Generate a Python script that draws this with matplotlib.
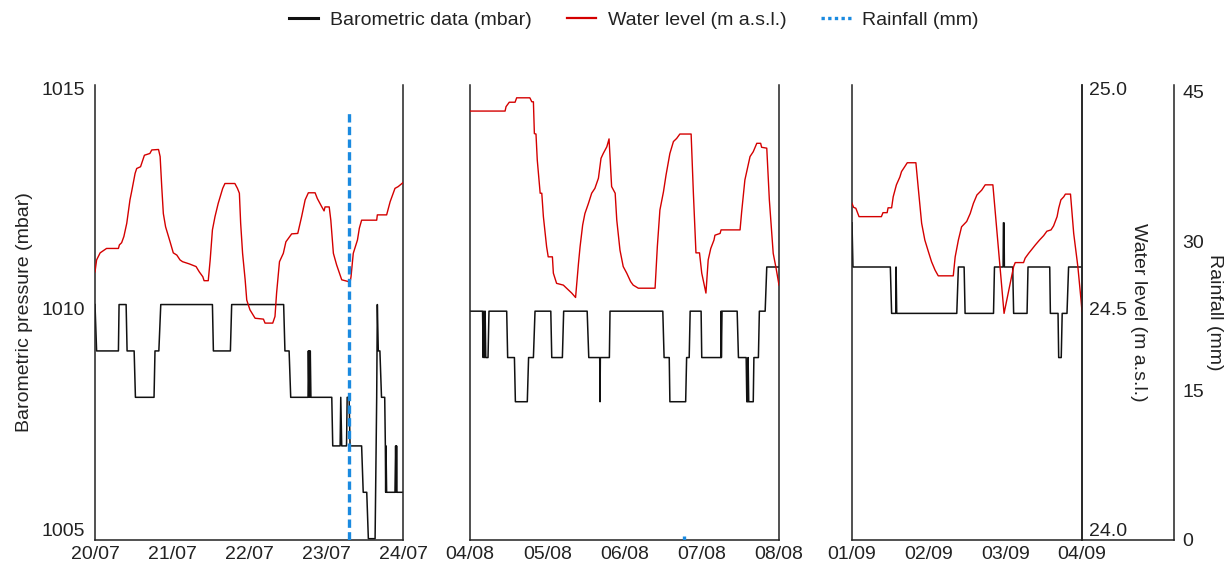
import matplotlib.pyplot as plt
import numpy as np

plt.rcParams['font.family'] = ['Liberation Sans', 'DejaVu Sans']
plt.rcParams['font.size'] = 14
plt.rcParams['text.color'] = '#222222'
plt.rcParams['axes.labelcolor'] = '#222222'
plt.rcParams['xtick.color'] = '#222222'
plt.rcParams['ytick.color'] = '#222222'

# times are hours from the first date of each window
jul_ticks = ['20/07', '21/07', '22/07', '23/07', '24/07']
aug_ticks = ['04/08', '05/08', '06/08', '07/08', '08/08']
sep_ticks = ['01/09', '02/09', '03/09', '04/09']

# barometric pressure (mbar)
baro_jul = [(0, 1010.1), (0.5, 1009.05), (7.3, 1009.05), (7.5, 1010.1), (9.7, 1010.1), (10.0, 1009.05),
            (12.2, 1009.05), (12.6, 1008.0), (18.4, 1008.0), (18.7, 1009.05), (19.9, 1009.05), (20.5, 1010.1),
            (36.6, 1010.1), (36.9, 1009.05), (42.2, 1009.05), (42.6, 1010.1), (58.8, 1010.1), (59.2, 1009.05),
            (60.5, 1009.05), (61.0, 1008.0), (66.4, 1008.0), (66.5, 1009.05), (66.7, 1008.0), (66.8, 1009.05),
            (67.0, 1008.0), (67.1, 1009.05), (67.3, 1008.0), (73.8, 1008.0), (74.1, 1006.9), (76.4, 1006.9),
            (76.6, 1008.0), (76.9, 1006.9), (78.4, 1006.9), (78.6, 1008.0), (79.2, 1008.0), (79.5, 1006.9),
            (83.1, 1006.9), (83.6, 1005.85), (84.7, 1005.85), (85.2, 1004.8), (87.3, 1004.8), (87.8, 1008.0),
            (88.0, 1010.1), (88.3, 1009.05), (88.8, 1009.05), (89.3, 1008.0), (90.3, 1008.0), (90.5, 1006.9),
            (90.6, 1005.85), (90.7, 1006.9), (90.9, 1005.85), (93.5, 1005.85), (93.7, 1006.9), (93.9, 1005.85),
            (94.0, 1006.9), (94.1, 1005.85), (96, 1005.85)]
baro_aug = [(0, 1009.95), (3.9, 1009.95), (4.1, 1008.9), (4.3, 1009.95), (4.5, 1008.9), (4.7, 1009.95),
            (4.9, 1008.9), (5.6, 1008.9), (5.9, 1009.95), (11.4, 1009.95), (11.7, 1008.9), (13.8, 1008.9),
            (14.1, 1007.9), (17.8, 1007.9), (18.2, 1008.9), (19.7, 1008.9), (20.2, 1009.95), (25.1, 1009.95),
            (25.4, 1008.9), (28.7, 1008.9), (29.1, 1009.95), (36.4, 1009.95), (36.9, 1008.9), (40.3, 1008.9),
            (40.4, 1007.9), (40.5, 1008.9), (43.3, 1008.9), (43.5, 1009.95), (59.9, 1009.95), (60.3, 1008.9),
            (61.9, 1008.9), (62.1, 1007.9), (67.0, 1007.9), (67.3, 1008.9), (68.1, 1008.9), (68.4, 1009.95),
            (71.8, 1009.95), (72.0, 1008.9), (77.9, 1008.9), (78.0, 1009.95), (78.1, 1008.9), (78.3, 1009.95),
            (83.0, 1009.95), (83.4, 1008.9), (85.8, 1008.9), (86.0, 1007.9), (86.3, 1007.9), (86.4, 1008.9),
            (86.6, 1007.9), (88.0, 1007.9), (88.2, 1008.9), (89.6, 1008.9), (89.9, 1009.95), (91.7, 1009.95),
            (92.2, 1010.95), (96, 1010.95)]
baro_sep = [(0, 1011.95), (0.3, 1010.95), (12.0, 1010.95), (12.4, 1009.9), (13.7, 1009.9), (13.8, 1010.95),
            (14.0, 1009.9), (32.8, 1009.9), (33.3, 1010.95), (35.1, 1010.95), (35.4, 1009.9), (44.3, 1009.9),
            (44.6, 1010.95), (47.3, 1010.95), (47.4, 1011.95), (47.6, 1011.95), (47.7, 1010.95), (50.3, 1010.95),
            (50.6, 1009.9), (54.8, 1009.9), (55.1, 1010.95), (61.9, 1010.95), (62.1, 1009.9), (64.5, 1009.9),
            (64.7, 1008.9), (65.5, 1008.9), (65.8, 1009.9), (67.3, 1009.9), (67.8, 1010.95), (72, 1010.95)]

# water level (m a.s.l.)
level_jul = [(0, 24.584), (0.5, 24.611), (1.6, 24.627), (3.6, 24.637), (7.3, 24.637), (7.6, 24.645),
             (8.3, 24.650), (9.0, 24.664), (9.9, 24.694), (10.9, 24.747), (11.4, 24.765), (12.5, 24.807),
             (13.0, 24.818), (14.2, 24.822), (15.4, 24.848), (17.1, 24.852), (17.7, 24.860), (19.8, 24.861),
             (20.3, 24.845), (20.8, 24.777), (21.3, 24.716), (22.0, 24.686), (23.4, 24.652), (24.4, 24.627),
             (25.5, 24.622), (26.5, 24.611), (27.3, 24.607), (29.4, 24.602), (31.5, 24.596), (32.5, 24.584),
             (33.6, 24.573), (34.0, 24.564), (35.3, 24.564), (35.9, 24.611), (36.6, 24.679), (37.4, 24.709),
             (38.4, 24.739), (39.8, 24.773), (40.5, 24.784), (43.6, 24.784), (44.4, 24.773), (45.0, 24.762),
             (45.4, 24.694), (46.0, 24.626), (46.8, 24.566), (47.3, 24.520), (48.3, 24.498), (49.9, 24.479),
             (52.5, 24.477), (53.0, 24.468), (55.4, 24.468), (56.1, 24.483), (56.6, 24.536), (57.5, 24.607),
             (58.7, 24.626), (59.5, 24.652), (61.3, 24.670), (63.2, 24.671), (64.4, 24.709), (65.5, 24.747),
             (66.5, 24.763), (68.6, 24.763), (69.3, 24.750), (70.7, 24.731), (71.4, 24.722), (71.7, 24.731),
             (73.0, 24.731), (73.5, 24.701), (74.3, 24.626), (75.3, 24.600), (76.9, 24.566), (79.0, 24.562),
             (79.3, 24.552), (79.8, 24.573), (80.5, 24.626), (81.8, 24.656), (82.4, 24.683), (83.1, 24.701),
             (87.8, 24.701), (88.0, 24.713), (90.9, 24.713), (92.0, 24.743), (93.5, 24.773), (94.5, 24.777),
             (96, 24.786)]
level_aug = [(0, 24.948), (10.9, 24.948), (11.2, 24.958), (12.2, 24.968), (14.0, 24.968), (14.5, 24.978),
             (18.6, 24.978), (19.2, 24.969), (19.7, 24.969), (20.0, 24.897), (20.5, 24.896), (20.9, 24.837),
             (21.8, 24.762), (22.3, 24.762), (22.8, 24.709), (23.8, 24.641), (24.3, 24.618), (25.6, 24.618),
             (25.9, 24.581), (26.9, 24.558), (29.0, 24.554), (30.0, 24.547), (31.6, 24.536), (32.8, 24.526),
             (33.7, 24.603), (34.2, 24.641), (35.0, 24.690), (35.7, 24.716), (36.8, 24.739), (37.8, 24.762),
             (38.8, 24.773), (39.9, 24.796), (40.7, 24.841), (41.4, 24.852), (42.5, 24.867), (43.2, 24.885),
             (44.0, 24.777), (45.1, 24.762), (45.6, 24.701), (46.6, 24.633), (47.6, 24.596), (48.7, 24.581),
             (49.9, 24.562), (50.7, 24.554), (52.3, 24.547), (57.5, 24.547), (58.2, 24.641), (59.0, 24.724),
             (60.1, 24.765), (60.9, 24.803), (62.1, 24.852), (63.2, 24.879), (64.2, 24.886), (65.2, 24.896),
             (68.7, 24.896), (69.4, 24.762), (70.2, 24.627), (71.3, 24.627), (72.0, 24.581), (73.3, 24.536),
             (74.0, 24.611), (74.8, 24.637), (75.8, 24.656), (76.1, 24.667), (77.7, 24.671), (78.0, 24.679),
             (83.9, 24.679), (84.4, 24.720), (85.4, 24.792), (87.0, 24.845), (88.0, 24.856), (89.1, 24.875),
             (90.3, 24.875), (90.6, 24.866), (92.2, 24.864), (93.0, 24.747), (94.2, 24.626), (95.1, 24.592),
             (96, 24.554)]
level_sep = [(0, 24.739), (0.5, 24.730), (1.2, 24.728), (2.2, 24.709), (9.2, 24.709), (9.7, 24.718),
             (11.0, 24.718), (11.3, 24.729), (12.4, 24.729), (12.9, 24.754), (13.9, 24.781), (15.0, 24.799),
             (15.5, 24.811), (16.5, 24.822), (17.3, 24.831), (20.0, 24.831), (20.7, 24.777), (21.8, 24.694),
             (22.8, 24.656), (23.9, 24.630), (24.9, 24.607), (26.0, 24.588), (27.0, 24.575), (31.7, 24.575),
             (32.3, 24.618), (33.3, 24.656), (34.3, 24.686), (35.9, 24.698), (37.0, 24.716), (38.0, 24.739),
             (39.1, 24.758), (40.6, 24.769), (41.7, 24.781), (44.1, 24.781), (47.6, 24.490), (50.6, 24.596),
             (51.1, 24.605), (53.7, 24.605), (54.2, 24.615), (55.3, 24.626), (56.3, 24.635), (57.4, 24.645),
             (58.7, 24.656), (60.0, 24.666), (61.0, 24.676), (62.3, 24.679), (63.1, 24.688), (64.2, 24.709),
             (64.7, 24.728), (65.4, 24.747), (66.3, 24.754), (66.8, 24.760), (68.4, 24.760), (69.4, 24.671),
             (70.7, 24.596), (71.7, 24.520), (72.0, 24.494)]

# rainfall events (hour, mm)
rain_jul = [(79.2, 43.0)]
rain_aug = [(66.5, 0.4)]
rain_sep = []

panels = [(jul_ticks, baro_jul, level_jul, rain_jul),
          (aug_ticks, baro_aug, level_aug, rain_aug),
          (sep_ticks, baro_sep, level_sep, rain_sep)]

W, H = 1231, 566
boxes = [(95, 308), (470, 309), (852, 230)]
ink = '#222222'

fig = plt.figure(figsize=(W / 100, H / 100), dpi=100)

for i, (ticks, baro, level, rain) in enumerate(panels):
    x0, w = boxes[i]
    ax = fig.add_axes([x0 / W, 26 / H, w / W, 455 / H])
    t, p = zip(*baro)
    ax.plot(t, p, color='#111111', lw=1.1, label='Barometric data (mbar)')
    ax.set_ylim(1004.77, 1015.07)
    ax.set_xlim(0, 24 * (len(ticks) - 1))
    ax.set_xticks(np.arange(len(ticks)) * 24)
    ax.set_xticklabels(ticks)
    ax.tick_params(length=0)
    ax.tick_params(axis='x', pad=4)
    ax.tick_params(axis='y', pad=7)
    ax.spines['top'].set_visible(False)
    for s in ax.spines.values():
        s.set_color(ink)
        s.set_linewidth(1.1)
    if i == 0:
        ax.set_yticks([1005, 1010, 1015])
        ax.set_ylabel('Barometric pressure (mbar)', labelpad=6)
    else:
        ax.set_yticks([])

    wl = ax.twinx()
    t, v = zip(*level)
    wl.plot(t, v, color='#d40000', lw=1.0, label='Water level (m a.s.l.)')
    wl.set_ylim(23.977, 25.007)

    rn = ax.twinx()
    if rain:
        t, v = zip(*rain)
        rn.vlines(t, 0, v, color='#1a8ae0', lw=2.4, linestyles=(0, (2.5, 1.3)), label='Rainfall (mm)')
    rn.set_ylim(0, 45.7)

    if i < 2:
        wl.axis('off')
        rn.axis('off')
    else:
        for tw in (wl, rn):
            for side in ('top', 'left', 'bottom'):
                tw.spines[side].set_visible(False)
            tw.spines['right'].set_color(ink)
            tw.spines['right'].set_linewidth(1.1)
            tw.tick_params(length=0)
        wl.set_yticks([24.0, 24.5, 25.0])
        wl.set_yticklabels(['24.0', '24.5', '25.0'])
        wl.tick_params(axis='y', pad=5)
        wl.set_ylabel('Water level (m a.s.l.)', rotation=-90, va='bottom', labelpad=2)
        rn.spines['right'].set_position(('outward', 92 * 0.72))
        rn.set_yticks([0, 15, 30, 45])
        rn.tick_params(axis='y', pad=6)
        rn.set_ylabel('Rainfall (mm)', rotation=-90, va='bottom', labelpad=1)
        # bottom line runs on to the rainfall axis
        ax.plot([1, 1 + 92 / w], [0, 0], transform=ax.transAxes, clip_on=False, color=ink, lw=1.1)

    if i == 0:
        handles = ax.get_lines()[:1] + wl.get_lines()[:1] + rn.collections[:1]

leg = fig.legend(handles, [h.get_label() for h in handles], loc='center', bbox_to_anchor=(634 / W, 1 - 20 / H),
                 ncol=3, frameon=False, handlelength=1.5, handletextpad=0.6, columnspacing=1.8, fontsize=14)
leg.legend_handles[0].set_linewidth(2.2)
leg.legend_handles[1].set_linewidth(1.6)
leg.legend_handles[2].set_linestyle((0, (1, 1)))

fig.savefig('out.png', dpi=100, facecolor='white')
